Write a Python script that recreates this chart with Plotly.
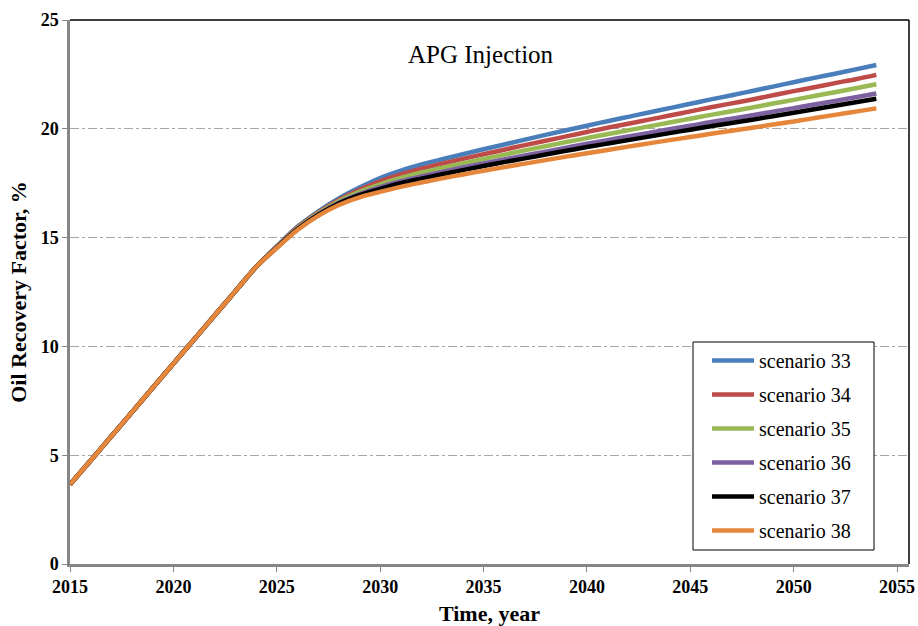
import plotly.graph_objects as go

# Simulation years
years = list(range(2015, 2055))

# Oil recovery factor (%) per scenario
s33 = [3.65, 4.76, 5.87, 6.98, 8.10, 9.21, 10.32, 11.43, 12.54, 13.65,
       14.60, 15.50, 16.20, 16.80, 17.30, 17.74, 18.08, 18.36, 18.60, 18.83,
       19.06, 19.28, 19.50, 19.72, 19.93, 20.14, 20.35, 20.55, 20.75, 20.95,
       21.15, 21.35, 21.54, 21.74, 21.94, 22.14, 22.34, 22.53, 22.73, 22.93]
s34 = [3.65, 4.76, 5.87, 6.98, 8.10, 9.21, 10.32, 11.43, 12.54, 13.65,
       14.58, 15.47, 16.15, 16.73, 17.20, 17.59, 17.91, 18.17, 18.40, 18.62,
       18.83, 19.04, 19.25, 19.45, 19.65, 19.85, 20.05, 20.23, 20.42, 20.61,
       20.80, 20.99, 21.17, 21.35, 21.54, 21.73, 21.91, 22.10, 22.28, 22.48]
s35 = [3.65, 4.76, 5.87, 6.98, 8.10, 9.21, 10.32, 11.43, 12.54, 13.65,
       14.56, 15.43, 16.11, 16.67, 17.10, 17.45, 17.74, 17.99, 18.20, 18.41,
       18.61, 18.81, 19.01, 19.20, 19.39, 19.57, 19.76, 19.93, 20.11, 20.29,
       20.46, 20.64, 20.81, 20.98, 21.16, 21.33, 21.51, 21.68, 21.86, 22.05]
s36 = [3.65, 4.76, 5.87, 6.98, 8.10, 9.21, 10.32, 11.43, 12.54, 13.65,
       14.55, 15.40, 16.07, 16.60, 17.00, 17.32, 17.59, 17.81, 18.02, 18.22,
       18.41, 18.59, 18.77, 18.95, 19.13, 19.31, 19.48, 19.65, 19.81, 19.98,
       20.14, 20.31, 20.46, 20.62, 20.79, 20.95, 21.12, 21.28, 21.45, 21.62]
s37 = [3.65, 4.76, 5.87, 6.98, 8.10, 9.21, 10.32, 11.43, 12.54, 13.65,
       14.54, 15.38, 16.04, 16.57, 16.95, 17.24, 17.50, 17.71, 17.91, 18.10,
       18.29, 18.47, 18.64, 18.82, 18.99, 19.16, 19.32, 19.48, 19.64, 19.80,
       19.96, 20.12, 20.27, 20.42, 20.58, 20.74, 20.90, 21.06, 21.22, 21.38]
s38 = [3.65, 4.76, 5.87, 6.98, 8.10, 9.21, 10.32, 11.43, 12.54, 13.65,
       14.52, 15.35, 16.00, 16.50, 16.85, 17.10, 17.33, 17.53, 17.72, 17.90,
       18.07, 18.24, 18.40, 18.56, 18.72, 18.88, 19.03, 19.18, 19.33, 19.48,
       19.62, 19.77, 19.91, 20.05, 20.20, 20.34, 20.49, 20.64, 20.79, 20.94]

names = ["scenario 33", "scenario 34", "scenario 35",
         "scenario 36", "scenario 37", "scenario 38"]
series = [s33, s34, s35, s36, s37, s38]
colors = ["#4A7EBB", "#BE4B48", "#98B954", "#7D60A0", "#000000", "#E6863A"]

x_ticks = [2015, 2020, 2025, 2030, 2035, 2040, 2045, 2050, 2055]
y_ticks = [0, 5, 10, 15, 20, 25]

SERIF = "Liberation Serif"

# plot area in pixels
L, R, T, B = 70, 9, 20, 62
W, H = 918, 626
pw, ph = W - L - R, H - T - B


def px_x(v):
    return (v - L) / pw


def px_y(v):
    return (H - B - v) / ph


fig = go.Figure()
for name, ys, col in zip(names, series, colors):
    fig.add_trace(go.Scatter(
        x=years, y=ys, name=name, mode="lines",
        line=dict(color=col, width=4.5, shape="spline", smoothing=1.0),
        legendgroup=name,
    ))

fig.update_layout(
    width=W, height=H,
    margin=dict(l=L, r=R, t=T, b=B, autoexpand=False),
    paper_bgcolor="white", plot_bgcolor="white",
    font=dict(family=SERIF, color="black"),
    showlegend=True,
    legend=dict(
        x=px_x(707), y=px_y(341), xanchor="left", yanchor="top",
        bgcolor="rgba(0,0,0,0)", borderwidth=0,
        font=dict(family=SERIF, size=20, color="black"),
        tracegroupgap=5, itemwidth=42,
    ),
    annotations=[dict(
        text="APG Injection",
        x=px_x(481), y=px_y(54), xref="paper", yref="paper",
        xanchor="center", yanchor="middle",
        showarrow=False, font=dict(family=SERIF, size=25, color="black"),
    )],
)

fig.update_xaxes(
    range=[2015, 2055.58], tickvals=x_ticks, automargin=False,
    showgrid=False, zeroline=False,
    showline=True, linecolor="#868686", linewidth=2.5,
    ticks="outside", ticklen=5, tickcolor="#868686", tickwidth=1,
    tickfont=dict(family=SERIF, size=18, color="black", weight="bold"),
    title=dict(text="<b>Time, year</b>", font=dict(family=SERIF, size=22, color="black"),
               standoff=12),
)
fig.update_yaxes(
    range=[0, 25], tickvals=y_ticks, automargin=False,
    showgrid=True, gridcolor="#A6A6A6", gridwidth=1, griddash="dashdot",
    zeroline=False,
    showline=True, linecolor="#868686", linewidth=2.5,
    ticks="outside", ticklen=5, tickcolor="#868686", tickwidth=1,
    tickfont=dict(family=SERIF, size=18, color="black", weight="bold"),
    title=dict(text="<b>Oil Recovery Factor, %</b>", font=dict(family=SERIF, size=22, color="black"),
               standoff=8),
)

# black frame on the top and right sides of the plot area
fig.add_shape(type="line", xref="paper", yref="paper", x0=0, x1=1, y0=1, y1=1,
              line=dict(color="black", width=1.5))
fig.add_shape(type="line", xref="paper", yref="paper", x0=1, x1=1, y0=0, y1=1,
              line=dict(color="black", width=1.5))

# legend box
fig.add_shape(type="rect", xref="paper", yref="paper", layer="above",
              x0=px_x(693), x1=px_x(874), y0=px_y(550), y1=px_y(342),
              fillcolor="white", line=dict(color="black", width=1))

fig.write_html("out.html")
